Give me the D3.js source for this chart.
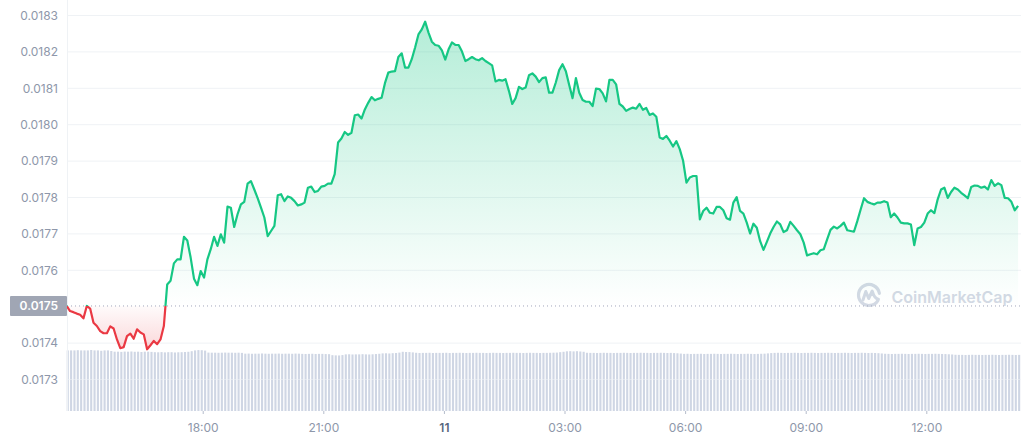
<!DOCTYPE html>
<html><head><meta charset="utf-8">
<script src="https://cdn.jsdelivr.net/npm/d3@7"></script>
<style>
html,body{margin:0;padding:0;background:#fff;}
svg{display:block;font-family:Inter,"Noto Sans",sans-serif;}
</style></head>
<body><svg id="chart" width="1021" height="440"></svg>
<script>
// ---- data ----
const startTime = new Date(2023, 0, 10, 14, 37);
const stepMinutes = 5;
const prices = [
0.017502,0.017488,0.017485,0.017481,0.017478,0.017468,0.017502,0.017495,0.017456,0.017447,
0.017433,0.017427,0.017427,0.017446,0.017440,0.017410,0.017386,0.017389,0.017419,0.017426,
0.017412,0.017438,0.017429,0.017424,0.017383,0.017394,0.017406,0.017397,0.017410,0.017447,
0.017561,0.017571,0.017619,0.017630,0.017630,0.017692,0.017682,0.017635,0.017577,0.017559,
0.017598,0.017580,0.017630,0.017658,0.017692,0.017667,0.017699,0.017676,0.017775,0.017772,
0.017719,0.017754,0.017781,0.017788,0.017838,0.017845,0.017822,0.017798,0.017772,0.017745,
0.017694,0.017708,0.017722,0.017806,0.017809,0.017790,0.017803,0.017799,0.017790,0.017778,
0.017781,0.017786,0.017827,0.017830,0.017815,0.017818,0.017830,0.017832,0.017838,0.017838,
0.017864,0.017951,0.017962,0.017980,0.017972,0.017978,0.018026,0.018028,0.018017,0.018042,
0.018060,0.018076,0.018067,0.018071,0.018074,0.018114,0.018143,0.018146,0.018147,0.018186,
0.018196,0.018157,0.018157,0.018180,0.018212,0.018248,0.018262,0.018283,0.018253,0.018228,
0.018219,0.018217,0.018204,0.018179,0.018207,0.018226,0.018219,0.018219,0.018201,0.018175,
0.018180,0.018186,0.018180,0.018177,0.018183,0.018175,0.018169,0.018163,0.018119,0.018123,
0.018121,0.018125,0.018093,0.018057,0.018073,0.018104,0.018098,0.018102,0.018136,0.018141,
0.018132,0.018117,0.018128,0.018130,0.018088,0.018088,0.018116,0.018150,0.018166,0.018147,
0.018109,0.018073,0.018128,0.018088,0.018068,0.018063,0.018063,0.018051,0.018099,0.018098,
0.018086,0.018064,0.018123,0.018123,0.018111,0.018057,0.018050,0.018038,0.018043,0.018047,
0.018044,0.018057,0.018041,0.018046,0.018027,0.018031,0.018022,0.017965,0.017961,0.017969,
0.017956,0.017940,0.017955,0.017933,0.017901,0.017841,0.017855,0.017859,0.017859,0.017740,
0.017763,0.017772,0.017758,0.017756,0.017774,0.017774,0.017765,0.017743,0.017739,0.017786,
0.017801,0.017763,0.017756,0.017731,0.017701,0.017728,0.017717,0.017680,0.017656,0.017678,
0.017701,0.017719,0.017734,0.017726,0.017705,0.017710,0.017733,0.017722,0.017710,0.017699,
0.017676,0.017641,0.017644,0.017647,0.017644,0.017655,0.017658,0.017685,0.017711,0.017720,
0.017715,0.017722,0.017731,0.017710,0.017708,0.017706,0.017735,0.017767,0.017798,0.017788,
0.017784,0.017781,0.017786,0.017786,0.017790,0.017786,0.017746,0.017756,0.017745,0.017731,
0.017729,0.017729,0.017726,0.017669,0.017715,0.017719,0.017731,0.017756,0.017765,0.017757,
0.017795,0.017822,0.017827,0.017799,0.017815,0.017827,0.017822,0.017813,0.017806,0.017798,
0.017829,0.017833,0.017832,0.017827,0.017830,0.017822,0.017848,0.017832,0.017839,0.017834,
0.017799,0.017798,0.017788,0.017765,0.017777
];
const volumes = [
61,61,61,61.2,61,61,61,61.4,61,61,60.6,61,61,60.4,
59.7,59.7,59.5,59.8,59.7,59.9,59.6,59.7,59.4,59.7,59.7,59.5,
59.2,59.1,59.3,59,59.2,59.2,58.9,59.1,59.2,59.4,59.6,60.2,
61,61.3,61.2,60.8,
58.8,58.7,58.7,58.6,58.7,58.8,58.7,58.7,58.6,58.7,58.5,
57.7,57.8,57.6,57.7,57.7,57.9,57.7,57.6,57.7,57.7,57.8,57.6,57.7,57.7,57.6,57.8,57.7,
57.5,57.4,57.5,57.6,57.4,57.5,57.5,57.3,57.2,
56.2,56,55.9,56.3,
57,57.1,56.9,57,57,57.2,57,56.9,57.1,57.3,57.6,
58,58.1,57.9,58.2,58.4,58.8,
59.6,59.4,59.3,59,
58.6,58.4,58.5,58.5,58.6,58.4,58.5,58.5,58.5,58.6,
58.4,58.5,58.5,58.6,58.5,58.4,58.5,58.5,58.6,58.5,
58.5,58.4,58.5,58.6,58.5,58.5,58.4,58.5,58.5,58.6,
58.5,58.5,58.4,58.5,58.6,58.5,58.5,58.4,58.5,58.5,
58.6,58.7,58.8,59.2,59.6,
60.1,60.2,60,60.2,59.9,59.6,
58.6,58.5,58.5,58.4,58.5,58.6,58.5,58.5,58.4,58.5,58.5,58.6,58.5,58.4,58.5,58.5,58.6,58.5,58.5,58.4,58.5,58.5,58.6,58.5,58.4,58.5,58.3,58.1,57.8,
57.5,57.6,57.4,57.5,57.5,57.6,57.4,57.5,57.5,57.6,57.5,57.4,57.5,57.5,57.6,57.5,57.4,57.5,57.5,57.6,57.5,57.4,57.5,57.6,57.7,58,58.3,
58.5,58.6,58.5,58.4,58.5,58.5,58.6,58.5,58.4,58.5,58.5,58.6,58.5,58.4,58.5,58.5,58.6,58.5,58.4,58.5,58.5,58.6,58.5,58.4,58.5,58.5,58.6,58.5,58.4,58.5,58.4,58.2,57.9,
57.6,57.5,57.4,57.5,57.5,57.6,57.5,57.4,57.5,57.5,57.6,57.5,57.4,57.5,57.5,57.6,57.5,57.4,57.3,57.1,56.9,
56.6,56.5,56.5,56.4,56.5,56.6,56.5,56.5,56.4,56.5,56.5,56.6,56.5,56.4,56.5,56.5,56.6,56.5,56.4,56.5
];
const yTicks = [0.0173,0.0174,0.0175,0.0176,0.0177,0.0178,0.0179,0.0180,0.0181,0.0182,0.0183];
const xTickTimes = [
  new Date(2023,0,10,18), new Date(2023,0,10,21), new Date(2023,0,11,0),
  new Date(2023,0,11,3), new Date(2023,0,11,6), new Date(2023,0,11,9), new Date(2023,0,11,12)
];
const xTickLabels = ["18:00","21:00","11","03:00","06:00","09:00","12:00"];
const watermarkText = "CoinMarketCap";

// ---- layout ----
const W = 1021, H = 440;
const plotLeft = 67, plotRight = 1021;
const volTop = 350, volBottom = 411;
const GREEN = "#16c784", RED = "#ea3943";

const svg = d3.select("#chart");
const times = prices.map((_, i) => d3.timeMinute.offset(startTime, i * stepMinutes));
const x = d3.scaleTime().domain([times[0], times[times.length - 1]]).range([66.7, 1018.1]);
const y = d3.scaleLinear().domain([0.0173, 0.0183]).range([379.5, 15.5]);
const yv = d3.scaleLinear().domain([0, d3.max(volumes)]).range([volBottom, volTop]);
const basePrice = prices[0];
const baseY = y(basePrice);
const data = prices.map((p, i) => ({t: times[i], p, v: volumes[i]}));

// defs
const defs = svg.append("defs");
const gG = defs.append("linearGradient").attr("id", "gGreen")
  .attr("gradientUnits", "userSpaceOnUse").attr("x1", 0).attr("x2", 0)
  .attr("y1", y(d3.max(prices))).attr("y2", baseY);
gG.append("stop").attr("offset", 0).attr("stop-color", GREEN).attr("stop-opacity", 0.32);
gG.append("stop").attr("offset", 1).attr("stop-color", GREEN).attr("stop-opacity", 0.0);
const gR = defs.append("linearGradient").attr("id", "gRed")
  .attr("gradientUnits", "userSpaceOnUse").attr("x1", 0).attr("x2", 0)
  .attr("y1", baseY).attr("y2", y(d3.min(prices)));
gR.append("stop").attr("offset", 0).attr("stop-color", RED).attr("stop-opacity", 0.02);
gR.append("stop").attr("offset", 1).attr("stop-color", RED).attr("stop-opacity", 0.2);
defs.append("clipPath").attr("id", "above").append("rect")
  .attr("x", 0).attr("y", 0).attr("width", W).attr("height", baseY);
defs.append("clipPath").attr("id", "below").append("rect")
  .attr("x", 0).attr("y", baseY).attr("width", W).attr("height", H - baseY);

// volume bars
svg.append("g").selectAll("rect").data(data).join("rect")
  .attr("x", d => x(d.t)).attr("width", 2.1)
  .attr("y", d => yv(d.v)).attr("height", d => volBottom - yv(d.v))
  .attr("fill", "#cfd6e4");

// gridlines
svg.append("g").selectAll("line").data(yTicks.filter(v => Math.abs(v - 0.0175) > 1e-9)).join("line")
  .attr("x1", plotLeft).attr("x2", plotRight)
  .attr("y1", d => y(d)).attr("y2", d => y(d))
  .attr("stroke", "#eff2f5").attr("stroke-width", 1)
  .attr("stroke-opacity", d => y(d) > volTop ? 0.55 : 1);
svg.append("line").attr("x1", plotLeft + 0.5).attr("x2", plotLeft + 0.5)
  .attr("y1", 0).attr("y2", volBottom).attr("stroke", "#eff2f5");

// watermark
const wm = svg.append("g").attr("fill", "none").attr("stroke", "#d3d9e4");
const lc = {x: 869, y: 295};
(function(){
  const p = d3.path();
  p.arc(lc.x, lc.y, 10.5, Math.PI * 0.18, Math.PI * 1.95, false);
  wm.append("path").attr("d", p.toString()).attr("stroke-width", 3.2).attr("stroke-linecap", "round");
  const q = d3.path();
  q.moveTo(lc.x - 6, lc.y + 5);
  q.lineTo(lc.x - 3.2, lc.y - 3.5);
  q.lineTo(lc.x - 0.3, lc.y + 3.5);
  q.lineTo(lc.x + 3.2, lc.y - 4);
  q.quadraticCurveTo(lc.x + 5.5, lc.y + 4, lc.x + 9.5, lc.y + 4.2);
  wm.append("path").attr("d", q.toString()).attr("stroke-width", 3).attr("stroke-linejoin", "round").attr("stroke-linecap", "round");
})();
svg.append("text").attr("x", 891.5).attr("y", 302.5)
  .attr("font-size", 16).attr("font-weight", 600).attr("fill", "#d3d9e4")
  .text(watermarkText);

// areas
const area = d3.area().x(d => x(d.t)).y0(baseY).y1(d => y(d.p));
svg.append("path").datum(data).attr("d", area).attr("fill", "url(#gGreen)").attr("clip-path", "url(#above)");
svg.append("path").datum(data).attr("d", area).attr("fill", "url(#gRed)").attr("clip-path", "url(#below)");

// baseline
svg.append("line").attr("x1", plotLeft).attr("x2", plotRight)
  .attr("y1", baseY).attr("y2", baseY)
  .attr("stroke", "#a1a7bb").attr("stroke-width", 1).attr("stroke-dasharray", "1,3");

// lines
const line = d3.line().x(d => x(d.t)).y(d => y(d.p));
svg.append("path").datum(data).attr("d", line).attr("fill", "none")
  .attr("stroke", GREEN).attr("stroke-width", 2.2).attr("stroke-linejoin", "round").attr("clip-path", "url(#above)");
svg.append("path").datum(data).attr("d", line).attr("fill", "none")
  .attr("stroke", RED).attr("stroke-width", 2.2).attr("stroke-linejoin", "round").attr("clip-path", "url(#below)");

// y axis
const yAxis = svg.append("g").attr("transform", `translate(${plotLeft},0)`)
  .call(d3.axisLeft(y).tickValues(yTicks).tickFormat(d3.format(".4f")).tickSize(0).tickPadding(9));
yAxis.select(".domain").remove();
yAxis.selectAll("text").attr("font-size", 12).attr("fill", "#8e97aa").attr("font-family", "Inter,sans-serif");

// x axis
const xAxis = svg.append("g").attr("transform", `translate(0,${volBottom})`)
  .call(d3.axisBottom(x).tickValues(xTickTimes).tickFormat((d, i) => xTickLabels[i]).tickSize(3).tickPadding(9));
xAxis.select(".domain").remove();
xAxis.selectAll("line").attr("stroke", "#b5bccb");
xAxis.selectAll("text").attr("font-size", 12).attr("font-family", "Inter,sans-serif")
  .attr("fill", (d, i) => xTickLabels[i] === "11" ? "#58667e" : "#8e97aa")
  .attr("font-weight", (d, i) => xTickLabels[i] === "11" ? 600 : 400);

// base price label
svg.append("rect").attr("x", 10).attr("y", baseY - 10).attr("width", plotLeft - 10).attr("height", 20)
  .attr("rx", 1).attr("fill", "#a0a6b4");
svg.append("text").attr("x", plotLeft - 9).attr("y", baseY).attr("dy", "0.35em")
  .attr("text-anchor", "end").attr("font-size", 12).attr("font-weight", 600).attr("fill", "#fff")
  .text(d3.format(".4f")(basePrice));
</script>
</body></html>
